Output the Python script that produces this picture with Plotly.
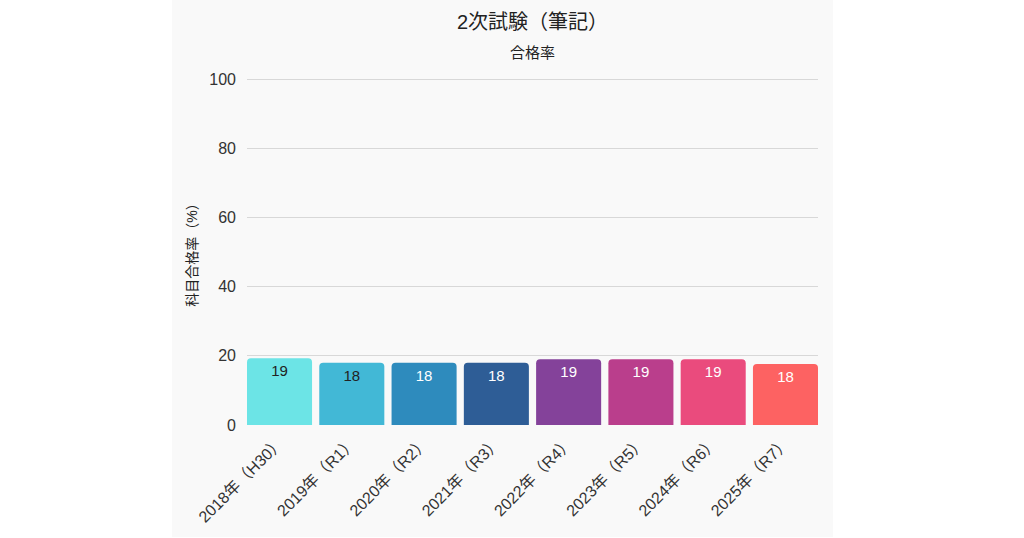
import plotly.graph_objects as go

categories = ["2018年（H30）", "2019年（R1）", "2020年（R2）", "2021年（R3）",
              "2022年（R4）", "2023年（R5）", "2024年（R6）", "2025年（R7）"]
pass_rate = [19.3, 18.0, 18.0, 18.0, 19.0, 19.0, 19.0, 17.6]
bar_colors = ["#6ce4e6", "#42b8d6", "#2e8bbd", "#2e5d96",
              "#84429a", "#ba3e8c", "#ea4b7d", "#fd6262"]
label_colors = ["#222222", "#222222", "#ffffff", "#ffffff",
                "#ffffff", "#ffffff", "#ffffff", "#ffffff"]
label_texts = [str(round(v)) for v in pass_rate]

FONT = "Liberation Sans, Noto Sans CJK JP, sans-serif"

fig = go.Figure()
fig.add_trace(go.Bar(
    x=list(range(len(categories))), y=pass_rate,
    marker=dict(color=bar_colors, line=dict(width=0)),
    text=label_texts, textposition="inside", insidetextanchor="end",
    textangle=0,
    textfont=dict(size=15, color=label_colors, family=FONT),
    hoverinfo="skip",
))

fig.update_layout(
    width=1024, height=538,
    margin=dict(l=247, r=206, t=78, b=113),
    paper_bgcolor="#ffffff", plot_bgcolor="rgba(0,0,0,0)",
    barcornerradius=4, bargap=0.1,
    showlegend=False,
    font=dict(family=FONT, color="#333333"),
    annotations=[
        dict(text="2次試験（筆記）", xref="paper", yref="paper", x=0.5, y=(425 - 22) / 347,
             xanchor="center", yanchor="middle", showarrow=False,
             font=dict(size=20, color="#222222", family=FONT)),
        dict(text="合格率", xref="paper", yref="paper", x=0.5, y=(425 - 52) / 347,
             xanchor="center", yanchor="middle", showarrow=False,
             font=dict(size=15, color="#222222", family=FONT)),
    ],
    shapes=[dict(type="rect", xref="paper", yref="paper",
                 x0=(172 - 247) / 571, x1=(833 - 247) / 571,
                 y0=(425 - 537) / 347, y1=(425 - 0) / 347,
                 fillcolor="#f9f9f9", line=dict(width=0), layer="below")],
)
fig.update_yaxes(range=[0, 100.3], tickvals=[0, 20, 40, 60, 80, 100],
                 showgrid=True, gridcolor="#d8d8d8",
                 zeroline=False, showline=False, ticks="",
                 ticklabelstandoff=10,
                 tickfont=dict(size=16, color="#333333"),
                 title=dict(text="科目合格率（%）", font=dict(size=14, color="#222222"),
                            standoff=8))
fig.update_xaxes(range=[-0.45, len(categories) - 0.55],
                 tickvals=list(range(len(categories))), ticktext=categories,
                 tickangle=-45, showline=False, ticks="", showgrid=False,
                 ticklabelstandoff=4,
                 tickfont=dict(size=16, color="#333333"))

fig.write_html("out.html")
